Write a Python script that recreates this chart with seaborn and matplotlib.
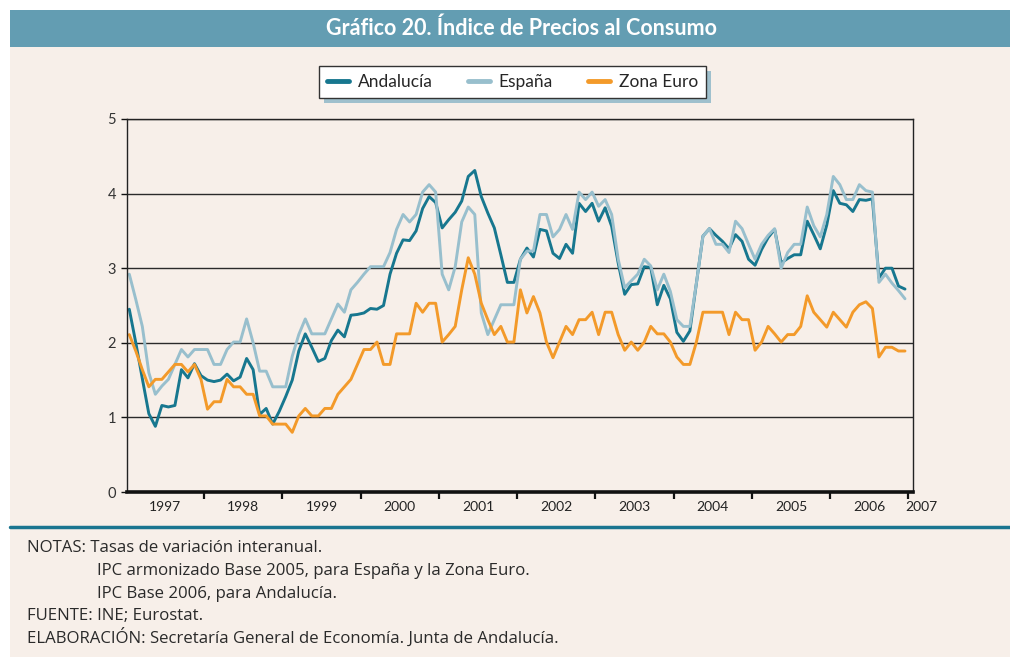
import numpy as np
import pandas as pd
import matplotlib
matplotlib.use("Agg")
import matplotlib.pyplot as plt
import matplotlib.transforms as mtransforms
from matplotlib.patches import Rectangle
from matplotlib.lines import Line2D
import seaborn as sns

# Tasas de variacion interanual, mensual desde enero de 1997
andalucia = [2.45, 2.00, 1.52, 1.05, 0.88, 1.16, 1.14, 1.16, 1.64, 1.53, 1.72, 1.56,
             1.50, 1.48, 1.50, 1.58, 1.49, 1.54, 1.79, 1.64, 1.04, 1.12, 0.91, 1.08,
             1.28, 1.50, 1.89, 2.12, 1.94, 1.75, 1.79, 2.03, 2.17, 2.08, 2.37, 2.38,
             2.40, 2.46, 2.45, 2.50, 2.92, 3.20, 3.38, 3.37, 3.50, 3.80, 3.96, 3.88,
             3.54, 3.65, 3.75, 3.90, 4.23, 4.31, 3.96, 3.74, 3.54, 3.18, 2.81, 2.81,
             3.12, 3.27, 3.15, 3.52, 3.50, 3.20, 3.13, 3.32, 3.20, 3.87, 3.76, 3.87,
             3.63, 3.81, 3.56, 3.07, 2.65, 2.78, 2.79, 3.02, 3.01, 2.51, 2.77, 2.59,
             2.14, 2.02, 2.16, 2.80, 3.43, 3.53, 3.44, 3.36, 3.26, 3.45, 3.36, 3.12,
             3.04, 3.25, 3.41, 3.52, 3.07, 3.13, 3.18, 3.18, 3.63, 3.45, 3.26, 3.58,
             4.04, 3.87, 3.85, 3.76, 3.92, 3.91, 3.93, 2.87, 3.00, 3.00, 2.76, 2.72]

espana = [2.92, 2.58, 2.22, 1.60, 1.31, 1.42, 1.51, 1.71, 1.91, 1.81, 1.91, 1.91,
          1.91, 1.71, 1.71, 1.91, 2.01, 2.01, 2.32, 2.00, 1.62, 1.62, 1.41, 1.41,
          1.41, 1.82, 2.11, 2.32, 2.12, 2.12, 2.12, 2.32, 2.52, 2.41, 2.71, 2.81,
          2.92, 3.02, 3.02, 3.02, 3.21, 3.52, 3.72, 3.62, 3.72, 4.02, 4.12, 4.02,
          2.92, 2.71, 3.02, 3.62, 3.82, 3.72, 2.40, 2.11, 2.31, 2.51, 2.51, 2.51,
          3.12, 3.23, 3.23, 3.72, 3.72, 3.42, 3.52, 3.72, 3.52, 4.02, 3.92, 4.02,
          3.83, 3.92, 3.72, 3.12, 2.74, 2.83, 2.92, 3.12, 3.03, 2.71, 2.92, 2.69,
          2.31, 2.22, 2.22, 2.80, 3.43, 3.53, 3.32, 3.32, 3.21, 3.63, 3.53, 3.32,
          3.12, 3.32, 3.44, 3.53, 3.00, 3.21, 3.32, 3.32, 3.82, 3.57, 3.42, 3.72,
          4.23, 4.12, 3.92, 3.92, 4.12, 4.04, 4.02, 2.81, 2.92, 2.80, 2.70, 2.59]

zona_euro = [2.11, 1.89, 1.64, 1.41, 1.51, 1.51, 1.61, 1.71, 1.71, 1.61, 1.71, 1.51,
             1.11, 1.21, 1.21, 1.51, 1.41, 1.41, 1.31, 1.31, 1.02, 1.02, 0.91, 0.91,
             0.91, 0.80, 1.02, 1.12, 1.02, 1.02, 1.12, 1.12, 1.31, 1.41, 1.51, 1.71,
             1.91, 1.91, 2.01, 1.71, 1.71, 2.12, 2.12, 2.12, 2.53, 2.41, 2.53, 2.53,
             2.01, 2.11, 2.22, 2.71, 3.14, 2.92, 2.53, 2.31, 2.11, 2.22, 2.01, 2.01,
             2.71, 2.40, 2.62, 2.40, 2.01, 1.80, 2.01, 2.22, 2.11, 2.31, 2.31, 2.41,
             2.11, 2.41, 2.41, 2.11, 1.90, 2.01, 1.90, 2.01, 2.22, 2.12, 2.12, 2.01,
             1.81, 1.71, 1.71, 2.01, 2.41, 2.41, 2.41, 2.41, 2.11, 2.41, 2.31, 2.31,
             1.90, 2.01, 2.22, 2.12, 2.01, 2.11, 2.11, 2.22, 2.63, 2.41, 2.31, 2.21,
             2.41, 2.31, 2.21, 2.41, 2.51, 2.55, 2.46, 1.81, 1.94, 1.94, 1.89, 1.89]

series_names = ["Andalucía", "España", "Zona Euro"]
years = ["1997", "1998", "1999", "2000", "2001", "2002", "2003", "2004", "2005", "2006", "2007"]
colors = ["#17778f", "#98bfcd", "#f39a2a"]

frames = []
for name, vals in zip(series_names, [andalucia, espana, zona_euro]):
    frames.append(pd.DataFrame({"mes": np.arange(len(vals)), "valor": vals, "serie": name}))
df = pd.concat(frames, ignore_index=True)

sns.set_theme(style="white")
plt.rcParams["font.family"] = ["Lato", "DejaVu Sans"]

W, H = 1010, 657
bg = "#f7efe9"
fig = plt.figure(figsize=(W / 100, H / 100), dpi=100, facecolor="white")

# fondo y franja del titulo
fig.patches.append(Rectangle((10 / W, 0), 1 - 10 / W, 1 - 47 / H, transform=fig.transFigure,
                             facecolor=bg, edgecolor="none", zorder=-10))
fig.patches.append(Rectangle((10 / W, 1 - 47 / H), 1 - 10 / W, 37 / H, transform=fig.transFigure,
                             facecolor="#639db2", edgecolor="none", zorder=-10))
fig.text(522 / W, 1 - 28 / H, "Gráfico 20. Índice de Precios al Consumo", ha="center", va="center",
         color="white", fontsize=15.5, fontweight="bold")

ax = fig.add_axes([127 / W, 1 - 492 / H, (912.5 - 127) / W, (492 - 119) / H])
ax.set_facecolor(bg)

sns.lineplot(data=df, x="mes", y="valor", hue="serie", palette=dict(zip(series_names, colors)),
             linewidth=2.1, ax=ax, legend=False)

ax.set_xlim(-0.35, 120.15)
ax.set_ylim(0, 5)
ax.set_yticks(range(6))
ax.set_yticklabels([str(v) for v in range(6)], fontsize=10.5, color="#333333")
ax.set_xticks(np.arange(11.5, 120, 12))
ax.set_xticklabels([])
ax.set_xlabel("")
ax.set_ylabel("")
ax.grid(axis="y", color="#2a2a2a", linewidth=1.0)
ax.set_axisbelow(True)
ax.tick_params(axis="x", direction="out", length=5, width=1.6, color="#111111", bottom=True)
ax.tick_params(axis="y", direction="out", length=4, width=1.0, color="#111111", left=True, pad=4)
for side in ["left", "right", "top"]:
    ax.spines[side].set_color("#222222")
    ax.spines[side].set_linewidth(1.0)
ax.spines["bottom"].set_color("#111111")
ax.spines["bottom"].set_linewidth(2.6)

# etiquetas de año centradas en cada año; 2007 justo tras la ultima marca
label_pos = [12 * k + 5.5 for k in range(10)] + [121.5]
trans = mtransforms.blended_transform_factory(ax.transData, ax.transAxes)
for xpos, y in zip(label_pos, years):
    ax.text(xpos, -0.025, y, transform=trans, ha="center", va="top",
            fontsize=10, color="#222222", clip_on=False)

handles = [Line2D([], [], color=c, lw=3.5) for c in colors]
leg = fig.legend(handles, series_names, loc="center", bbox_to_anchor=(512.5 / W, 1 - 82 / H),
                 ncol=3, frameon=True, fancybox=False, shadow=False, framealpha=1.0,
                 edgecolor="#333333", facecolor="white", fontsize=12.5, handlelength=1.3,
                 columnspacing=2.0, handletextpad=0.5, borderpad=0.45)
leg.get_frame().set_linewidth(1.0)
leg.set_zorder(5)

# sombra azul clara desplazada bajo la leyenda
fig.canvas.draw()
bb = leg.get_window_extent().transformed(fig.transFigure.inverted())
dx, dy = 5 / W, 5 / H
fig.add_artist(Rectangle((bb.x0 + dx, bb.y0 - dy), bb.width, bb.height, transform=fig.transFigure,
                         facecolor="#9fc0cd", edgecolor="none", zorder=4))

fig.add_artist(Line2D([10 / W, 1], [1 - 527 / H] * 2, transform=fig.transFigure,
                      color="#1a7590", linewidth=2.5))

notes = [
    (27, 548, "NOTAS: Tasas de variación interanual."),
    (97, 571, "IPC armonizado Base 2005, para España y la Zona Euro."),
    (97, 594, "IPC Base 2006, para Andalucía."),
    (27, 616, "FUENTE: INE; Eurostat."),
    (27, 637, "ELABORACIÓN: Secretaría General de Economía. Junta de Andalucía."),
]
for x, y, t in notes:
    fig.text(x / W, 1 - y / H, t, ha="left", va="center", fontsize=12.1, color="#2a2a2a",
             family=["Open Sans", "DejaVu Sans"])

fig.savefig("out.png", dpi=100, facecolor=fig.get_facecolor())
